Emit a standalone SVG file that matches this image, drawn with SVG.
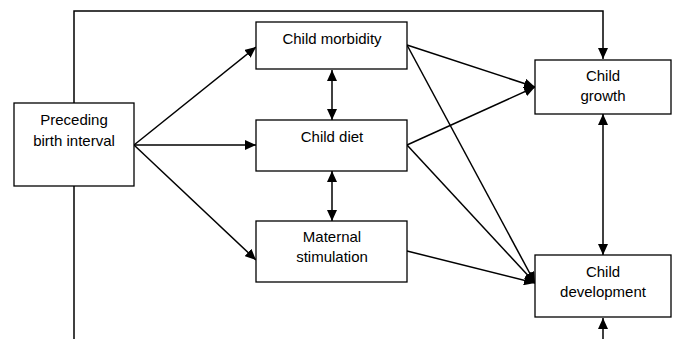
<svg xmlns="http://www.w3.org/2000/svg" width="676" height="339" viewBox="0 0 676 339">
<style>
.box{fill:#fff;stroke:#000;stroke-width:1.3}
.t{font-family:"Liberation Sans",Arial,sans-serif;font-size:15px;fill:#000;text-anchor:middle}
.c{fill:none;stroke:#000;stroke-width:1.5}
.a{marker-end:url(#ah)}
.b{marker-start:url(#ahs);marker-end:url(#ah)}
</style>
<defs>
<marker id="ah" markerUnits="userSpaceOnUse" markerWidth="12" markerHeight="10" refX="11" refY="5" orient="auto"><path d="M0,0 L11,5 L0,10 Z" fill="#000"/></marker>
<marker id="ahs" markerUnits="userSpaceOnUse" markerWidth="12" markerHeight="10" refX="0" refY="5" orient="auto"><path d="M11,0 L0,5 L11,10 Z" fill="#000"/></marker>
</defs>
<g id="connectors">
<polyline class="c a" points="74,103 74,11 603,11 603,59"/>
<line class="c" x1="74" y1="186" x2="74" y2="339"/>
<line class="c a" x1="603" y1="339" x2="603" y2="318"/>
<line class="c a" x1="134" y1="145" x2="256" y2="47"/>
<line class="c a" x1="134" y1="145" x2="256" y2="145"/>
<line class="c a" x1="134" y1="145" x2="256" y2="260"/>
<line class="c b" x1="332" y1="70" x2="332" y2="120"/>
<line class="c b" x1="332" y1="171" x2="332" y2="221"/>
<line class="c a" x1="407" y1="45" x2="535" y2="87"/>
<line class="c a" x1="407" y1="45" x2="535" y2="283"/>
<line class="c a" x1="407" y1="145" x2="535" y2="87"/>
<line class="c a" x1="407" y1="145" x2="535" y2="283"/>
<line class="c a" x1="407" y1="251" x2="535" y2="283"/>
<line class="c b" x1="603" y1="114" x2="603" y2="255"/>
</g>
<g id="preceding">
<rect class="box" x="14" y="103" width="120" height="83"/>
<text class="t" x="74" y="125">Preceding</text>
<text class="t" x="74" y="146">birth interval</text>
</g>
<g id="morbidity">
<rect class="box" x="256" y="22" width="151" height="47"/>
<text class="t" x="332" y="44">Child morbidity</text>
</g>
<g id="diet">
<rect class="box" x="256" y="120" width="151" height="51"/>
<text class="t" x="332" y="142">Child diet</text>
</g>
<g id="maternal">
<rect class="box" x="256" y="221" width="151" height="61"/>
<text class="t" x="332" y="242">Maternal</text>
<text class="t" x="332" y="262">stimulation</text>
</g>
<g id="growth">
<rect class="box" x="535" y="60" width="136" height="54"/>
<text class="t" x="603" y="81">Child</text>
<text class="t" x="603" y="101">growth</text>
</g>
<g id="development">
<rect class="box" x="535" y="255" width="136" height="62"/>
<text class="t" x="603" y="277">Child</text>
<text class="t" x="603" y="297">development</text>
</g>
</svg>
